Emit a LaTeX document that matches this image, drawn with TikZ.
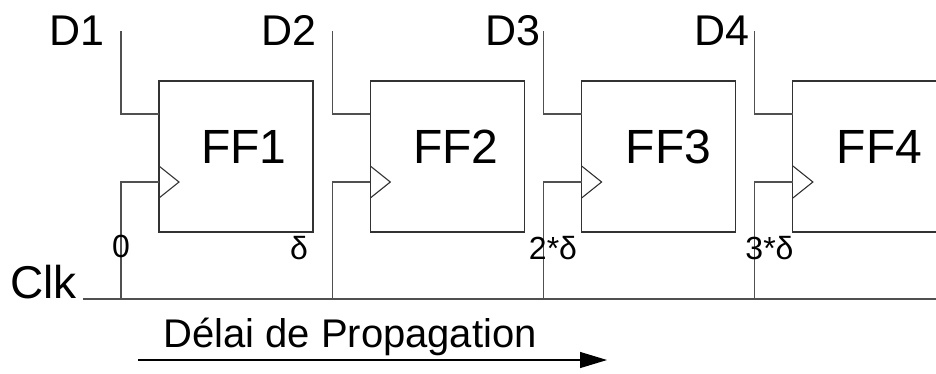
\documentclass[tikz,border=0pt]{standalone}
\usepackage{fontspec}
\setmainfont{Liberation Sans}
\usetikzlibrary{arrows.meta}
\definecolor{wire}{RGB}{80,80,80}
\definecolor{edge}{RGB}{50,50,50}
\begin{document}
\begin{tikzpicture}[x=1pt,y=-1pt,
  ffbox/.style={draw=edge,line width=1.1pt,minimum width=154pt,minimum height=151pt,inner sep=0pt,outer sep=0pt},
  wireline/.style={draw=wire,line width=1.1pt},
  bigtxt/.style={inner sep=0pt,outer sep=0pt,anchor=base,font=\fontsize{48}{52}\selectfont},
  dtxt/.style={inner sep=0pt,outer sep=0pt,anchor=base,font=\fontsize{43}{46}\selectfont},
  smalltxt/.style={inner sep=0pt,outer sep=0pt,anchor=base,font=\fontsize{32}{35}\selectfont},
  midtxt/.style={inner sep=0pt,outer sep=0pt,anchor=base,font=\fontsize{40}{44}\selectfont}]
\useasboundingbox (0,0) rectangle (936,373);
\clip (0,0) rectangle (936,373);
% flip-flops
\foreach \i/\lx in {1/159,2/370.3,3/581.6,4/792.9}{
  \node[ffbox] (ff\i) at (\lx+77,156.5) {};
  \coordinate (ff\i d) at (\lx,114);
  \coordinate (ff\i c) at (\lx,182);
  \coordinate (d\i top) at (\lx-38,31);
  \coordinate (clk\i) at (\lx-38,299);
  \draw[wireline] (d\i top) |- (ff\i d);
  \draw[wireline] (clk\i) |- (ff\i c);
  \draw[draw=edge,line width=1.1pt] (ff\i c) ++(0,-16) -- ++(20,16) -- ++(-20,16);
}
% clock line
\coordinate (clkstart) at (83,299);
\coordinate (clkend) at (936,299);
\draw[wireline] (clkstart) -- (clkend);
% texts
\node[bigtxt] (t1) at (244,163) {FF1};
\node[bigtxt] (t2) at (456,163) {FF2};
\node[bigtxt] (t3) at (668.5,163) {FF3};
\node[bigtxt] (t4) at (879.5,163) {FF4};
\node[dtxt] (l1) at (76.5,45) {D1};
\node[dtxt] (l2) at (289,45) {D2};
\node[dtxt] (l3) at (512.5,45) {D3};
\node[dtxt] (l4) at (721.5,45) {D4};
\node[dtxt,font=\fontsize{46}{50}\selectfont] (lclk) at (43.5,298) {Clk};
\node[smalltxt] (s0) at (121,257) {0};
\node[smalltxt] (s1) at (299,259) {δ};
\node[smalltxt] (s2) at (553,259) {2*δ};
\node[smalltxt] (s3) at (769.5,259) {3*δ};
\node[midtxt] (prop) at (350,347) {Délai de Propagation};
% propagation arrow
\coordinate (astart) at (138,360);
\coordinate (aend) at (607,360);
\draw[line width=1.2pt,-{Triangle[length=27pt,width=16pt]}] (astart) -- (aend);
\end{tikzpicture}
\end{document}
